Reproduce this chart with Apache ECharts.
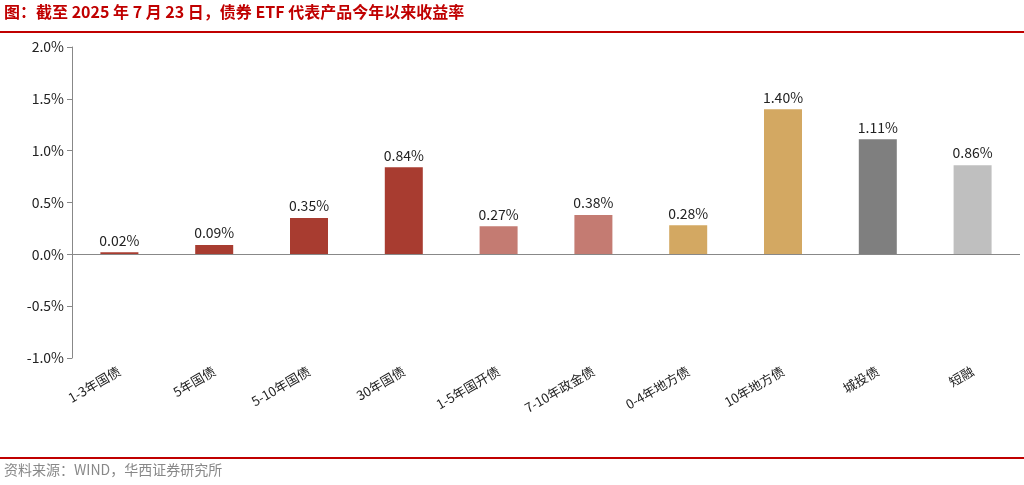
<!DOCTYPE html>
<html>
<head>
<meta charset="utf-8">
<script src="https://cdn.jsdelivr.net/npm/echarts@6/dist/echarts.min.js"></script>
<style>
  html, body { margin: 0; padding: 0; background: #fff; }
  #chart { width: 1024px; height: 485px; }
</style>
</head>
<body>
<div id="chart"></div>
<script>
// 债券 ETF 代表产品今年以来收益率 (%)
const categories = ["1-3年国债", "5年国债", "5-10年国债", "30年国债", "1-5年国开债",
    "7-10年政金债", "0-4年地方债", "10年地方债", "城投债", "短融"];
const returns = [0.02, 0.09, 0.35, 0.84, 0.27, 0.38, 0.28, 1.40, 1.11, 0.86];
const barColors = ["#A83C30", "#A83C30", "#A83C30", "#A83C30", "#C47B72",
    "#C47B72", "#D3A862", "#D3A862", "#7F7F7F", "#BFBFBF"];
const yTicks = [-1.0, 2.0, 0.5]; // min, max, step

const font = "'Noto Sans CJK SC', 'Liberation Sans', sans-serif";
const chart = echarts.init(document.getElementById("chart"));

chart.setOption({
    animation: false,
    textStyle: { fontFamily: font },
    graphic: [
        { type: "text", left: 4, top: 4,
          style: { text: "图：截至 2025 年 7 月 23 日，债券 ETF 代表产品今年以来收益率",
                   fill: "#C00000", font: "bold 16px " + font } },
        { type: "rect", shape: { x: 0, y: 31, width: 1024, height: 2 }, style: { fill: "#C00000" } },
        { type: "rect", shape: { x: 0, y: 457, width: 1024, height: 2 }, style: { fill: "#C00000" } },
        { type: "text", left: 4, top: 463,
          style: { text: "资料来源：WIND，华西证券研究所", fill: "#888", font: "14px " + font } }
    ],
    grid: { left: 72, right: 4, top: 47, bottom: 127 },
    xAxis: {
        type: "category",
        data: categories,
        axisLine: { onZero: false, show: false },
        axisTick: { show: false },
        axisLabel: { rotate: 30, color: "#222", fontSize: 13, margin: 12, interval: 0 }
    },
    yAxis: {
        type: "value",
        min: yTicks[0],
        max: yTicks[1],
        interval: yTicks[2],
        axisLine: { show: true, lineStyle: { color: "#888" } },
        axisTick: { show: true, lineStyle: { color: "#888" } },
        splitLine: { show: false },
        axisLabel: { color: "#222", fontSize: 14, formatter: v => v.toFixed(1) + "%" }
    },
    series: [{
        type: "bar",
        barWidth: 38,
        data: returns.map((v, i) => ({ value: v, itemStyle: { color: barColors[i] } })),
        label: { show: true, position: "top", color: "#222", fontSize: 14,
                 formatter: p => p.value.toFixed(2) + "%" },
        markLine: {
            silent: true, symbol: "none", label: { show: false },
            lineStyle: { color: "#888", type: "solid", width: 1 },
            data: [{ yAxis: 0 }]
        }
    }]
});
</script>
</body>
</html>
